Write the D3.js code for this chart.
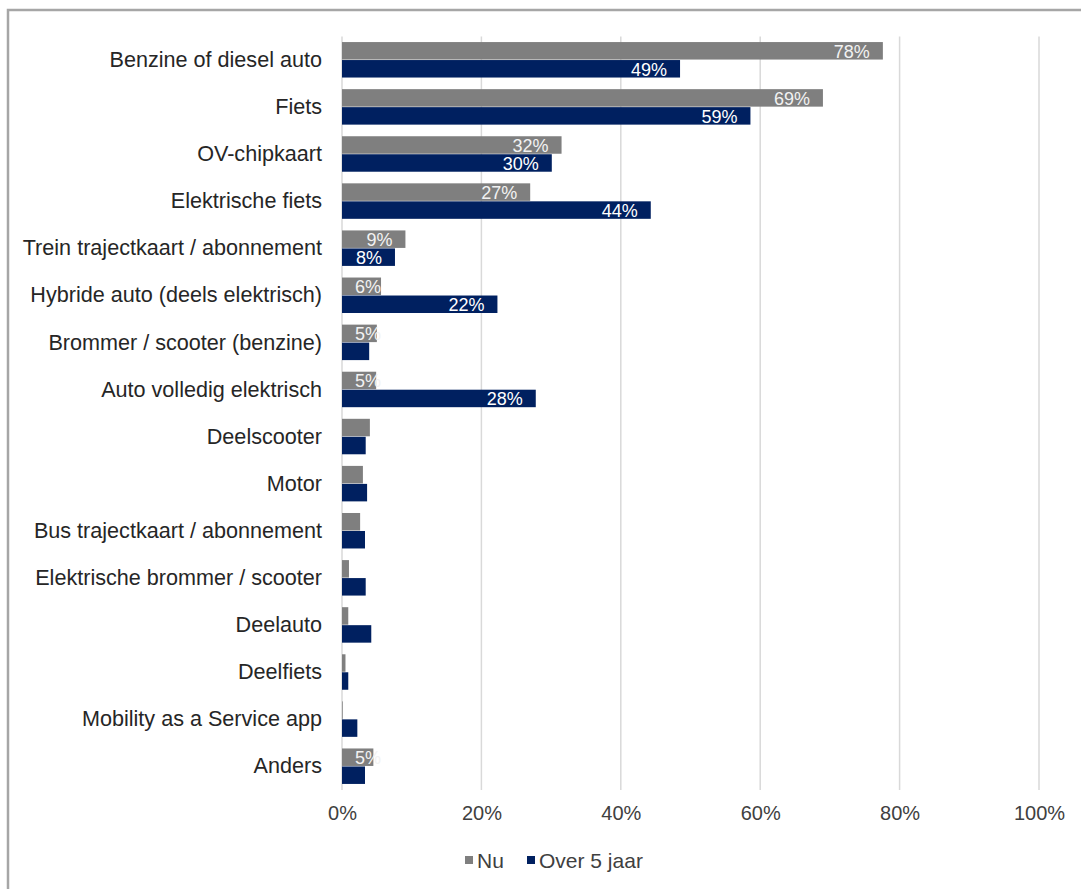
<!DOCTYPE html>
<html>
<head>
<meta charset="utf-8">
<script src="https://cdn.jsdelivr.net/npm/d3@7"></script>
<style>
  body { margin: 0; background: #fff; }
  text { font-family: "Liberation Sans", Arial, sans-serif; }
</style>
</head>
<body>
<script>
const categories = [
  "Benzine of diesel auto", "Fiets", "OV-chipkaart", "Elektrische fiets",
  "Trein trajectkaart / abonnement", "Hybride auto (deels elektrisch)",
  "Brommer / scooter (benzine)", "Auto volledig elektrisch", "Deelscooter",
  "Motor", "Bus trajectkaart / abonnement", "Elektrische brommer / scooter",
  "Deelauto", "Deelfiets", "Mobility as a Service app", "Anders"
];
const nu      = [77.6, 69, 31.5, 27, 9.1, 5.6, 5, 4.9, 4.0, 3.0, 2.6, 1.0, 0.9, 0.5, 0.1, 4.5];
const over5   = [48.5, 58.6, 30.1, 44.3, 7.6, 22.3, 3.9, 27.8, 3.4, 3.6, 3.3, 3.4, 4.2, 0.9, 2.2, 3.3];
const series  = ["Nu", "Over 5 jaar"];
const colors  = ["#7f7f7f", "#002060"];
const xTicks  = [0, 20, 40, 60, 80, 100];

const w = 1081, h = 889;
const x0 = 342, x1 = 1039, plotTop = 36.5, plotBottom = 790;

const svg = d3.select("body").append("svg")
  .attr("width", w)
  .attr("height", h);

// outer frame (runs off the page on the right and bottom)
svg.append("rect")
  .attr("x", 8).attr("y", 10)
  .attr("width", 1200).attr("height", 1000)
  .attr("fill", "none")
  .attr("stroke", "#a6a6a6")
  .attr("stroke-width", 2.5);

const x = d3.scaleLinear().domain([0, 100]).range([x0, x1]);
const y = d3.scaleBand().domain(categories).range([plotTop, plotBottom])
  .paddingInner(0.236).paddingOuter(0.118);
const ySub = d3.scaleBand().domain(series).range([0, y.bandwidth()]);

// gridlines
svg.append("g").selectAll("line")
  .data(xTicks)
  .enter().append("line")
  .attr("x1", d => x(d)).attr("x2", d => x(d))
  .attr("y1", plotTop).attr("y2", plotBottom)
  .attr("stroke", "#d9d9d9")
  .attr("stroke-width", 1.5);

// x axis labels
const xAxis = d3.axisBottom(x).tickValues(xTicks).tickFormat(d => d + "%").tickSize(0).tickPadding(0);
const gx = svg.append("g").attr("transform", `translate(0, ${plotBottom + 16})`).call(xAxis);
gx.select(".domain").remove();
gx.selectAll("text")
  .attr("dy", "0.71em")
  .style("font-size", "20px")
  .attr("fill", "#404040");

// y axis labels
const yAxis = d3.axisLeft(y).tickSize(0).tickPadding(20);
const gy = svg.append("g").attr("transform", `translate(${x0}, 0)`).call(yAxis);
gy.select(".domain").remove();
gy.selectAll("text")
  .style("font-size", "21.6px")
  .attr("fill", "#262626");

const rows = categories.map((c, i) => ({ cat: c, values: [nu[i], over5[i]] }));

const groups = svg.append("g").selectAll("g")
  .data(rows)
  .enter().append("g")
  .attr("transform", d => `translate(0, ${y(d.cat)})`);

const bars = groups.selectAll("g")
  .data(d => d.values.map((v, j) => ({ v: v, s: series[j], j: j })))
  .enter().append("g");

bars.append("rect")
  .attr("x", x(0))
  .attr("y", d => ySub(d.s))
  .attr("width", d => x(d.v) - x(0))
  .attr("height", ySub.bandwidth() - 0.5)
  .attr("fill", d => colors[d.j]);

// value labels, inside end, only for values that round to 5% or more
bars.filter(d => Math.round(d.v) >= 5)
  .append("text")
  .attr("y", d => ySub(d.s) + ySub.bandwidth() / 2)
  .attr("dy", "0.36em")
  .style("font-size", "18px")
  .attr("fill", d => d.j === 0 ? "#f2f2f2" : "#ffffff")
  .text(d => Math.round(d.v) + "%")
  .each(function(d) {
    const tw = this.getComputedTextLength();
    const left = Math.max(x(d.v) - 13 - tw, x(0) + 13);
    d3.select(this).attr("x", left);
  });

// legend
const legend = svg.append("g").attr("transform", "translate(465, 860)");
const items = [{ s: series[0], c: colors[0], dx: 0 }, { s: series[1], c: colors[1], dx: 62 }];
items.forEach(it => {
  legend.append("rect")
    .attr("x", it.dx).attr("y", -4)
    .attr("width", 8).attr("height", 8)
    .attr("fill", it.c);
  legend.append("text")
    .attr("x", it.dx + 12).attr("y", 0)
    .attr("dy", "0.36em")
    .style("font-size", "21px")
    .attr("fill", "#404040")
    .text(it.s);
});
</script>
</body>
</html>
